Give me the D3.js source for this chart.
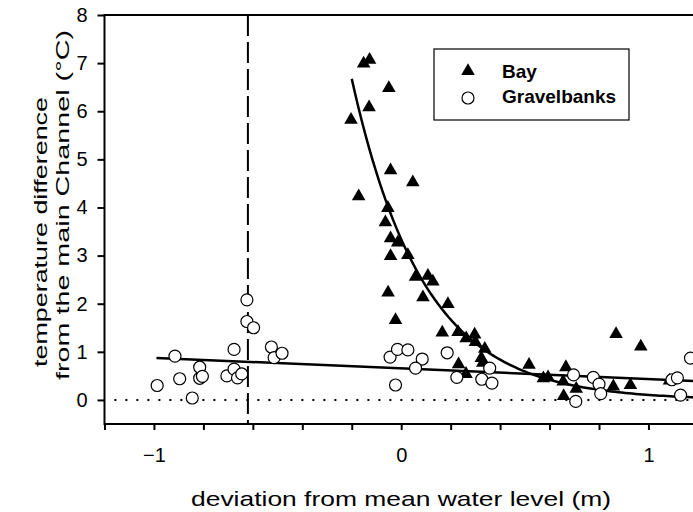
<!DOCTYPE html>
<html>
<head>
<meta charset="utf-8">
<script src="https://cdn.jsdelivr.net/npm/d3@7"></script>
<style>
  html, body { margin: 0; padding: 0; background: #fff; }
  svg { display: block; font-family: "Liberation Sans", Arial, Helvetica, sans-serif; }
</style>
</head>
<body>
<svg id="chart" width="693" height="512"></svg>
<script>
// ---- data ----
const bayX = [-0.128, -0.152, -0.05, -0.13, -0.203, -0.043, 0.047, -0.172, -0.054, -0.064,
              -0.043, -0.014, -0.043, 0.027, 0.058, 0.108, 0.128, -0.053, 0.088, 0.189,
              -0.023, 0.166, 0.23, 0.263, 0.297, 0.30, 0.338, 0.324, 0.33, 0.232,
              0.262, 0.517, 0.575, 0.594, 0.666, 0.655, 0.708, 0.657, 0.869, 0.969,
              0.858, 0.927, 1.085];
const bayY = [7.07, 6.99, 6.48, 6.08, 5.82, 4.77, 4.52, 4.23, 3.99, 3.69,
              3.36, 3.27, 2.99, 3.01, 2.56, 2.58, 2.46, 2.23, 2.13, 1.99,
              1.66, 1.40, 1.41, 1.28, 1.36, 1.20, 1.06, 0.87, 0.77, 0.74,
              0.54, 0.73, 0.45, 0.47, 0.68, 0.38, 0.23, 0.08, 1.37, 1.11,
              0.28, 0.31, 0.40];
const gravelX = [-0.987, -0.915, -0.896, -0.845, -0.815, -0.815, -0.804, -0.705, -0.676, -0.676,
                 -0.662, -0.645, -0.624, -0.624, -0.597, -0.525, -0.514, -0.482, -0.045, -0.015,
                 0.027, -0.023, 0.085, 0.058, 0.186, 0.225, 0.326, 0.358, 0.367, 0.697,
                 0.706, 0.777, 0.80, 0.807, 1.095, 1.117, 1.13, 1.17];
const gravelY = [0.30, 0.91, 0.44, 0.04, 0.68, 0.45, 0.49, 0.50, 1.05, 0.64,
                 0.46, 0.54, 2.08, 1.63, 1.50, 1.10, 0.88, 0.97, 0.89, 1.05,
                 1.04, 0.31, 0.85, 0.66, 0.98, 0.47, 0.43, 0.66, 0.35, 0.52,
                 -0.03, 0.47, 0.33, 0.13, 0.42, 0.46, 0.10, 0.87];

// fitted models shown in the figure
const bayFit = { a: 3.34, b: 3.46, xStart: -0.2, xEnd: 1.2 };        // y = a*exp(-b*x)
const gravelFit = { intercept: 0.655, slope: -0.22, xStart: -0.99, xEnd: 1.2 };
const referenceX = -0.62;   // dashed vertical line

const xTickLabels = [-1, 0, 1];
const xMinorTicks = [-1.2, -1.0, -0.8, -0.6, -0.4, -0.2, 0, 0.2, 0.4, 0.6, 0.8, 1.0, 1.2];
const yTicks = [0, 1, 2, 3, 4, 5, 6, 7, 8];
const legendLabels = ["Bay", "Gravelbanks"];
const xTitle = "deviation from mean water level (m)";
const yTitle = ["temperature difference", "from the main Channel (°C)"];

// ---- drawing ----
const svg = d3.select("#chart");
const x = d3.scaleLinear().domain([-1.2, 1.2]).range([104.5, 697.9]);
const y = d3.scaleLinear().domain([-0.5, 8]).range([424, 15]);

// dotted zero line
svg.append("line")
  .attr("x1", x(-1.16)).attr("x2", x(1.2))
  .attr("y1", y(0)).attr("y2", y(0))
  .attr("stroke", "#000").attr("stroke-width", 2)
  .attr("stroke-dasharray", "2,9");

// dashed vertical line
svg.append("line")
  .attr("x1", x(referenceX)).attr("x2", x(referenceX))
  .attr("y1", y(8)).attr("y2", y(-0.5))
  .attr("stroke", "#000").attr("stroke-width", 2)
  .attr("stroke-dasharray", "21,6");

// frame
svg.append("rect")
  .attr("x", x(-1.2)).attr("y", y(8))
  .attr("width", x(1.2) - x(-1.2)).attr("height", y(-0.5) - y(8))
  .attr("fill", "none").attr("stroke", "#000").attr("stroke-width", 2);

// axes
const xAxisMinor = d3.axisBottom(x).tickValues(xMinorTicks).tickSize(6).tickFormat("");
svg.append("g").attr("transform", `translate(0,${y(-0.5)})`).call(xAxisMinor)
  .call(g => g.select(".domain").remove())
  .call(g => g.selectAll("line").attr("stroke-width", 2));
const xAxis = d3.axisBottom(x).tickValues(xTickLabels).tickSize(0).tickPadding(24).tickFormat(d3.format("d"));
svg.append("g").attr("transform", `translate(0,${y(-0.5)})`).call(xAxis)
  .call(g => g.select(".domain").remove())
  .call(g => g.selectAll("text").attr("font-size", 20).attr("font-family", null).attr("fill", "#000"));

const yAxis = d3.axisLeft(y).tickValues(yTicks).tickSize(7).tickPadding(10).tickFormat(d3.format("d"));
svg.append("g").attr("transform", `translate(${x(-1.2)},0)`).call(yAxis)
  .call(g => g.select(".domain").remove())
  .call(g => g.selectAll("line").attr("stroke-width", 2))
  .call(g => g.selectAll("text").attr("font-size", 20).attr("font-family", null).attr("fill", "#000"));

// regression lines
const line = d3.line().x(d => x(d[0])).y(d => y(d[1]));
const gravelLine = [gravelFit.xStart, gravelFit.xEnd].map(v => [v, gravelFit.intercept + gravelFit.slope * v]);
svg.append("path").attr("d", line(gravelLine))
  .attr("fill", "none").attr("stroke", "#000").attr("stroke-width", 2.5);
const bayCurve = d3.range(0, 101).map(i => {
  const v = bayFit.xStart + (bayFit.xEnd - bayFit.xStart) * i / 100;
  return [v, bayFit.a * Math.exp(-bayFit.b * v)];
});
svg.append("path").attr("d", line(bayCurve))
  .attr("fill", "none").attr("stroke", "#000").attr("stroke-width", 2.5);

// points
const tri = d3.symbol().type(d3.symbolTriangle).size(80);
svg.append("g").selectAll("path").data(bayX.map((v, i) => [v, bayY[i]])).join("path")
  .attr("d", tri)
  .attr("transform", d => `translate(${x(d[0])},${y(d[1])})`)
  .attr("fill", "#000");
svg.append("g").selectAll("circle").data(gravelX.map((v, i) => [v, gravelY[i]])).join("circle")
  .attr("cx", d => x(d[0])).attr("cy", d => y(d[1])).attr("r", 6)
  .attr("fill", "#fff").attr("stroke", "#000").attr("stroke-width", 1.2);

// legend
const lg = svg.append("g");
lg.append("rect").attr("x", 434).attr("y", 49).attr("width", 195).attr("height", 71)
  .attr("fill", "#fff").attr("stroke", "#000").attr("stroke-width", 1.2);
lg.append("path").attr("d", tri).attr("transform", "translate(468,71)").attr("fill", "#000");
lg.append("circle").attr("cx", 468).attr("cy", 98).attr("r", 6)
  .attr("fill", "#fff").attr("stroke", "#000").attr("stroke-width", 1.2);
lg.selectAll("text.lab").data(legendLabels).join("text")
  .attr("class", "lab")
  .attr("x", 502).attr("y", (d, i) => 78 + i * 25)
  .attr("font-size", 19).attr("font-weight", "bold").text(d => d);

// axis titles
svg.append("text")
  .attr("x", 401).attr("y", 506).attr("text-anchor", "middle")
  .attr("font-size", 21)
  .attr("textLength", 420).attr("lengthAdjust", "spacingAndGlyphs")
  .text(xTitle);
const yTitleCenters = [232, 205];
const yTitleLens = [270, 350];
const yTitleBase = [47, 69];
yTitle.forEach((t, i) => {
  svg.append("text")
    .attr("transform", `translate(${yTitleBase[i]},${yTitleCenters[i]}) rotate(-90)`)
    .attr("text-anchor", "middle")
    .attr("font-size", 19)
    .attr("textLength", yTitleLens[i]).attr("lengthAdjust", "spacingAndGlyphs")
    .text(t);
});
</script>
</body>
</html>
